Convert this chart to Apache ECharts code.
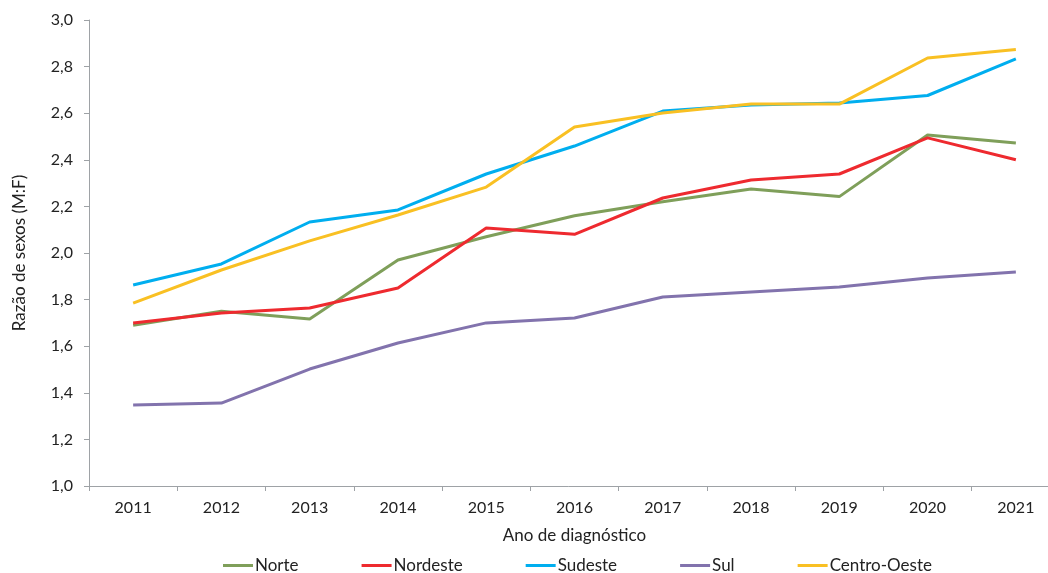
<!DOCTYPE html>
<html><head><meta charset="utf-8">
<script src="https://cdn.jsdelivr.net/npm/echarts@6/dist/echarts.min.js"></script>
<style>html,body{margin:0;padding:0;background:#fff}#c{width:1048px;height:573px}</style>
</head><body><div id="c"></div>
<script>
var years = ['2011','2012','2013','2014','2015','2016','2017','2018','2019','2020','2021'];
var norte = [1.69,1.75,1.717,1.97,2.07,2.16,2.22,2.275,2.242,2.506,2.472];
var nordeste = [1.70,1.742,1.764,1.85,2.107,2.08,2.236,2.313,2.339,2.494,2.40];
var sudeste = [1.863,1.953,2.133,2.185,2.339,2.459,2.609,2.635,2.644,2.676,2.833];
var sul = [1.348,1.356,1.502,1.614,1.70,1.721,1.811,1.833,1.854,1.893,1.918];
var centroOeste = [1.785,1.927,2.052,2.163,2.283,2.541,2.601,2.639,2.639,2.837,2.873];
var names = ['Norte','Nordeste','Sudeste','Sul','Centro-Oeste'];
var colors = ['#7f9f5a','#ee2a2f','#00aeef','#8273ad','#f9c023'];
var FONT = 'Lato, "Open Sans", sans-serif';
var chart = echarts.init(document.getElementById('c'), null, {renderer:'canvas'});
function mk(name, data, i){
  return {name:name, type:'line', data:data, symbol:'none', smooth:false,
    lineStyle:{width:3, color:colors[i]}, itemStyle:{color:colors[i]}, animation:false};
}
chart.setOption({
  animation:false,
  textStyle:{fontFamily:FONT, color:'#222'},
  grid:{left:89, top:20, width:971, height:466, containLabel:false, outerBoundsMode:'none'},
  legend:{data:names, left:218, top:552, icon:'rect', itemWidth:30, itemHeight:3, itemGap:63,
    textStyle:{fontFamily:FONT, fontSize:17, color:'#222', padding:[0,0,0,-3]}},
  xAxis:{type:'category', data:years, boundaryGap:true,
    name:'Ano de diagnóstico', nameLocation:'middle', nameGap:41,
    nameTextStyle:{fontFamily:FONT, fontSize:17, color:'#222'},
    axisLine:{lineStyle:{color:'#9ea2a6', width:1}},
    axisTick:{show:true, length:5, lineStyle:{color:'#9ea2a6'}},
    axisLabel:{fontFamily:FONT, fontSize:16, color:'#222', margin:14},
    splitLine:{show:false}},
  yAxis:{type:'value', min:1.0, max:3.0, interval:0.2,
    name:'Razão de sexos (M:F)', nameLocation:'middle', nameGap:61, nameRotate:90,
    nameTextStyle:{fontFamily:FONT, fontSize:17, color:'#222'},
    axisLine:{show:true, lineStyle:{color:'#9ea2a6', width:1}},
    axisTick:{show:true, length:5, lineStyle:{color:'#9ea2a6'}},
    axisLabel:{fontFamily:FONT, fontSize:16, color:'#222', margin:16,
      formatter:function(v){return v.toFixed(1).replace('.',',');}},
    splitLine:{show:false}},
  series:[mk(names[0],norte,0), mk(names[1],nordeste,1), mk(names[2],sudeste,2), mk(names[3],sul,3), mk(names[4],centroOeste,4)]
});
</script></body></html>
